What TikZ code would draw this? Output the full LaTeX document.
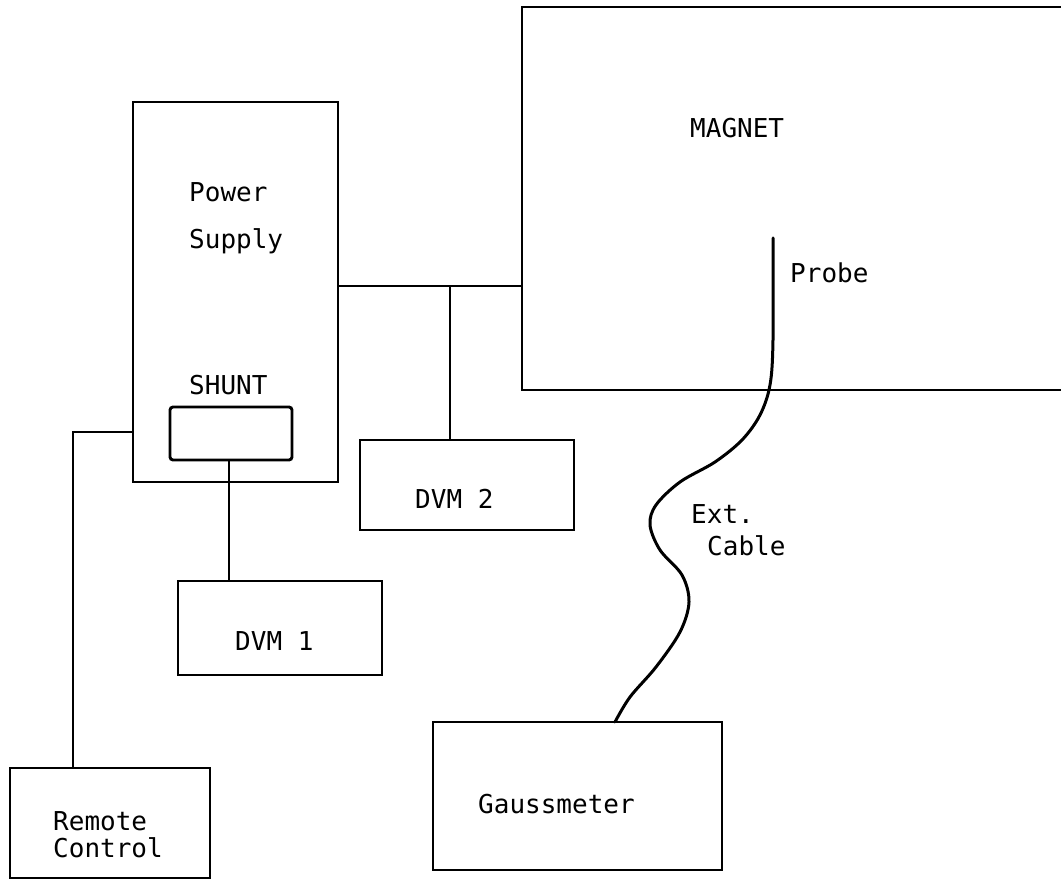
\documentclass[tikz,border=0pt]{standalone}
\usepackage{fontspec}
\newfontfamily\typefont{DejaVu Sans Mono}
\begin{document}
\begin{tikzpicture}[x=1pt,y=-1pt,
  box/.style={draw, line width=2.9pt, inner sep=0pt, outer sep=0pt},
  lbl/.style={font=\typefont\fontsize{26}{28}\selectfont, inner sep=0pt, anchor=base west},
  wire/.style={line width=2.6pt},
  cable/.style={line width=3pt, line join=round, line cap=round}]
\useasboundingbox[fill=white] (0,0) rectangle (1061,882);
\clip (0,0) rectangle (1061,882);

% boxes
\node[box, minimum width=205pt, minimum height=380pt] (ps) at (235.5,292) {};
\node[box, rounded corners=3pt, minimum width=122pt, minimum height=53pt] (shunt) at (231,433.5) {};
\node[box, minimum width=600pt, minimum height=383pt] (magnet) at (822,198.5) {};
\node[box, minimum width=214pt, minimum height=90pt] (dvm2) at (467,485) {};
\node[box, minimum width=204pt, minimum height=94pt] (dvm1) at (280,628) {};
\node[box, minimum width=200pt, minimum height=110pt] (remote) at (110,823) {};
\node[box, minimum width=289pt, minimum height=148pt] (gauss) at (577.5,796) {};

% labels
\node[lbl] (tpower) at (189,202) {Power};
\node[lbl] (tsupply) at (189,249) {Supply};
\node[lbl] (tshunt) at (189,395) {SHUNT};
\node[lbl] (tmagnet) at (690,138) {MAGNET};
\node[lbl] (tprobe) at (790,283) {Probe};
\node[lbl] (tdvm2) at (415,508) {DVM 2};
\node[lbl] (tdvm1) at (235,650) {DVM 1};
\node[lbl] (text) at (691,523) {Ext.};
\node[lbl] (tcable) at (707,555) {Cable};
\node[lbl] (tremote) at (53,830) {Remote};
\node[lbl] (tcontrol) at (53,857) {Control};
\node[lbl] (tgauss) at (478,813) {Gaussmeter};

% connectors
\coordinate (j1) at (450,286);
\draw[wire] (ps.east |- j1) -- (magnet.west |- j1);
\draw[wire] (j1) -- (j1 |- dvm2.north);
\coordinate (sj) at (229,460);
\draw[wire] (sj) -- (sj |- dvm1.north);
\coordinate (r1) at (73,432);
\draw[wire] (r1 |- remote.north) -- (r1) -- (r1 -| ps.west);

% probe and extension cable
\coordinate (probe) at (773,238);
\coordinate (cend) at (615,722);
\draw[cable] plot[smooth, tension=0.55] coordinates {(probe) (773,340) (770,385) (760,415) (742,440) (715,462) (680,482) (656,505) (650,525) (660,550) (682,575) (689,602) (680,632) (656,667) (630,697) (cend)};
\end{tikzpicture}
\end{document}
